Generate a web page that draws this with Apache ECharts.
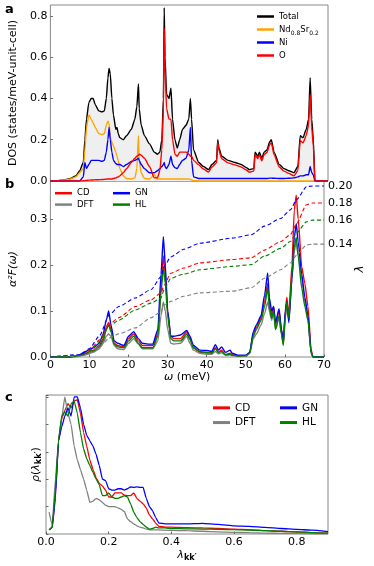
<!DOCTYPE html>
<html>
<head>
<meta charset="utf-8">
<script src="https://cdn.jsdelivr.net/npm/echarts/dist/echarts.min.js"></script>
<style>
html, body { margin: 0; padding: 0; background: #fff; }
#chart { width: 374px; height: 566px; }
</style>
</head>
<body>
<div id="chart"></div>
<script>
// panel a: phonon DOS (states/meV-unit-cell) vs omega (meV)
const omegaDos = [0, 2, 3.5, 5.1, 6.4, 7.4, 8.3, 8.7, 9.1, 9.7,
  10.3, 10.8, 11.3, 12.2, 13.0, 13.6, 14.1, 14.5, 14.8, 15.1,
  15.5, 15.9, 16.5, 16.8, 17.1, 17.5, 18.4, 19.2, 20.4, 21.3,
  21.8, 22.2, 22.4, 22.9, 23.7, 25.0, 26.2, 27.0, 27.6, 28.1,
  28.5, 28.7, 28.9, 29.3, 29.9, 30.4, 30.8, 31.4, 32.0, 32.6,
  33.3, 34.2, 34.9, 35.3, 35.6, 36.1, 37.4, 38.6, 39.9, 40.7,
  41.9, 42.2, 42.5, 43.2, 44.8, 46.5, 48.1, 49.4, 50.2, 51.3,
  51.6, 52.3, 52.7, 53.3, 53.9, 54.6, 55.3, 55.7, 56.4, 57.7,
  58.9, 60.1, 61.4, 62.4, 63.0, 63.7, 64.5, 65.1, 65.5, 65.9,
  66.3, 66.7, 70];
const dosTotal = [0, 0.002, 0.005, 0.012, 0.025, 0.05, 0.09, 0.2, 0.3, 0.38,
  0.4, 0.4, 0.37, 0.34, 0.335, 0.34, 0.4, 0.5, 0.545, 0.52,
  0.4, 0.32, 0.25, 0.26, 0.23, 0.21, 0.2, 0.22, 0.25, 0.3,
  0.36, 0.47, 0.35, 0.27, 0.22, 0.18, 0.14, 0.13, 0.14, 0.2,
  0.4, 0.84, 0.6, 0.42, 0.4, 0.45, 0.3, 0.2, 0.16, 0.2,
  0.25, 0.27, 0.3, 0.4, 0.3, 0.15, 0.09, 0.07, 0.055, 0.08,
  0.1, 0.2, 0.16, 0.12, 0.1, 0.09, 0.08, 0.065, 0.055, 0.06,
  0.14, 0.12, 0.14, 0.11, 0.14, 0.15, 0.19, 0.2, 0.14, 0.08,
  0.06, 0.05, 0.04, 0.07, 0.22, 0.21, 0.25, 0.3, 0.5, 0.3,
  0.2, 0, 0];
const dosNdSr = [0, 0.002, 0.005, 0.01, 0.02, 0.04, 0.06, 0.15, 0.26, 0.32,
  0.3, 0.28, 0.26, 0.23, 0.225, 0.23, 0.27, 0.29, 0.28, 0.21,
  0.19, 0.17, 0.14, 0.12, 0.1, 0.06, 0.025, 0.012, 0.01, 0.015,
  0.06, 0.22, 0.1, 0.04, 0.012, 0.01, 0.03, 0.01, 0.01, 0.01,
  0.01, 0.01, 0.01, 0.01, 0.01, 0.01, 0.01, 0.01, 0.01, 0.01,
  0.01, 0.01, 0.01, 0.008, 0.005, 0.002, 0.001, 0, 0, 0,
  0, 0, 0, 0, 0, 0, 0, 0, 0, 0,
  0, 0, 0, 0, 0, 0, 0, 0, 0, 0,
  0, 0, 0, 0, 0, 0, 0, 0, 0, 0,
  0, 0, 0];
const dosNi = [0, 0, 0, 0, 0, 0, 0.02, 0.09, 0.06, 0.08,
  0.1, 0.1, 0.1, 0.1, 0.095, 0.1, 0.14, 0.2, 0.26, 0.2,
  0.14, 0.1, 0.085, 0.08, 0.08, 0.08, 0.07, 0.08, 0.095, 0.1,
  0.105, 0.11, 0.1, 0.08, 0.06, 0.04, 0.04, 0.05, 0.06, 0.07,
  0.08, 0.09, 0.07, 0.06, 0.08, 0.12, 0.08, 0.065, 0.06, 0.08,
  0.1, 0.11, 0.15, 0.26, 0.1, 0.02, 0.012, 0.012, 0.012, 0.012,
  0.012, 0.012, 0.012, 0.012, 0.012, 0.012, 0.012, 0.012, 0.012, 0.012,
  0.012, 0.012, 0.012, 0.012, 0.012, 0.012, 0.014, 0.014, 0.013, 0.012,
  0.012, 0.013, 0.015, 0.02, 0.025, 0.025, 0.03, 0.03, 0.07, 0.04,
  0.03, 0, 0];
const dosO = [0, 0, 0, 0, 0, 0, 0.001, 0.002, 0.003, 0.004,
  0.005, 0.005, 0.006, 0.006, 0.007, 0.008, 0.009, 0.01, 0.01, 0.01,
  0.01, 0.012, 0.015, 0.018, 0.02, 0.025, 0.04, 0.06, 0.09, 0.11,
  0.12, 0.125, 0.13, 0.125, 0.11, 0.07, 0.015, 0.015, 0.05, 0.15,
  0.35, 0.74, 0.55, 0.35, 0.3, 0.3, 0.2, 0.13, 0.12, 0.14,
  0.14, 0.14, 0.13, 0.12, 0.12, 0.1, 0.078, 0.058, 0.043, 0.068,
  0.088, 0.188, 0.148, 0.108, 0.088, 0.078, 0.068, 0.053, 0.043, 0.048,
  0.128, 0.108, 0.128, 0.098, 0.128, 0.138, 0.176, 0.186, 0.127, 0.068,
  0.048, 0.037, 0.025, 0.05, 0.195, 0.185, 0.22, 0.27, 0.42, 0.26,
  0.17, 0, 0];

// panel b: alpha^2F(omega) and cumulative lambda(omega)
const omegaA2F = [0, 5, 7, 9, 11, 12.5, 13.5, 14.3, 14.9, 15.5,
  16.3, 17.2, 18.8, 20, 21.3, 22.5, 23.5, 25, 26.2, 27.5,
  28.3, 28.9, 29.4, 30, 30.8, 31.6, 33.3, 34.9, 35.7, 36.6,
  38.2, 40, 41.3, 42.2, 43, 43.8, 44.8, 46, 46.5, 48,
  50, 51, 51.9, 52.7, 53.9, 54.8, 55.6, 56, 56.6, 57.1,
  57.6, 58.5, 59.1, 59.6, 60.1, 60.5, 61, 61.8, 62.4, 62.9,
  63.4, 64.3, 65.1, 65.9, 66.7, 67.2, 70];
const a2fCD = [0, 0, 0.002, 0.008, 0.015, 0.025, 0.04, 0.065, 0.075, 0.06,
  0.03, 0.025, 0.022, 0.04, 0.05, 0.035, 0.025, 0.025, 0.025, 0.05,
  0.15, 0.22, 0.18, 0.1, 0.045, 0.04, 0.04, 0.055, 0.04, 0.02,
  0.01, 0.008, 0.01, 0.02, 0.01, 0.015, 0.005, 0.008, 0.005, 0.002,
  0.003, 0.01, 0.05, 0.065, 0.085, 0.12, 0.16, 0.12, 0.09, 0.11,
  0.07, 0.1, 0.06, 0.03, 0.1, 0.13, 0.09, 0.2, 0.32, 0.352,
  0.3, 0.196, 0.16, 0.11, 0.016, 0, 0];
const a2fDFT = [0, 0, 0.001, 0.005, 0.01, 0.018, 0.03, 0.045, 0.05, 0.045,
  0.025, 0.018, 0.016, 0.03, 0.04, 0.028, 0.018, 0.018, 0.018, 0.035,
  0.09, 0.12, 0.1, 0.06, 0.03, 0.028, 0.03, 0.045, 0.03, 0.015,
  0.008, 0.006, 0.006, 0.012, 0.007, 0.009, 0.004, 0.005, 0.003, 0.002,
  0.002, 0.008, 0.04, 0.05, 0.07, 0.095, 0.12, 0.1, 0.08, 0.095,
  0.06, 0.085, 0.05, 0.03, 0.085, 0.11, 0.08, 0.17, 0.23, 0.25,
  0.22, 0.17, 0.12, 0.08, 0.01, 0, 0];
const a2fGN = [0, 0, 0.003, 0.012, 0.02, 0.03, 0.05, 0.08, 0.1, 0.07,
  0.035, 0.03, 0.025, 0.045, 0.055, 0.04, 0.03, 0.028, 0.028, 0.06,
  0.18, 0.262, 0.2, 0.1, 0.045, 0.045, 0.048, 0.058, 0.045, 0.025,
  0.015, 0.014, 0.012, 0.027, 0.015, 0.022, 0.01, 0.015, 0.008, 0.004,
  0.004, 0.01, 0.055, 0.07, 0.09, 0.135, 0.183, 0.13, 0.1, 0.11,
  0.075, 0.105, 0.06, 0.035, 0.1, 0.12, 0.075, 0.17, 0.26, 0.29,
  0.25, 0.18, 0.13, 0.09, 0.01, 0, 0];
const a2fHL = [0, 0, 0.002, 0.007, 0.013, 0.022, 0.035, 0.06, 0.07, 0.055,
  0.028, 0.022, 0.02, 0.035, 0.045, 0.03, 0.02, 0.02, 0.02, 0.045,
  0.14, 0.195, 0.16, 0.09, 0.04, 0.035, 0.035, 0.05, 0.038, 0.02,
  0.012, 0.01, 0.008, 0.018, 0.01, 0.012, 0.005, 0.006, 0.004, 0.002,
  0.003, 0.008, 0.045, 0.06, 0.08, 0.11, 0.15, 0.11, 0.085, 0.1,
  0.06, 0.09, 0.05, 0.025, 0.09, 0.12, 0.085, 0.18, 0.24, 0.26,
  0.22, 0.15, 0.11, 0.08, 0.01, 0, 0];

const omegaLam = [0, 8, 10, 12.6, 15, 17.5, 21.7, 25.8, 28.3, 29.1, 30.8,
  34.1, 38.2, 46.5, 51.4, 54.8, 58.9, 61.4, 63, 65.5, 67, 70];
const lamCD = [0, 0.002, 0.008, 0.02, 0.038, 0.046, 0.059, 0.067, 0.075, 0.084, 0.098,
  0.104, 0.11, 0.114, 0.116, 0.125, 0.135, 0.143, 0.156, 0.178, 0.18, 0.18];
const lamDFT = [0, 0.001, 0.005, 0.012, 0.022, 0.027, 0.034, 0.046, 0.053, 0.061, 0.065,
  0.071, 0.075, 0.077, 0.081, 0.092, 0.102, 0.11, 0.119, 0.131, 0.132, 0.132];
const lamGN = [0, 0.003, 0.01, 0.025, 0.049, 0.059, 0.069, 0.079, 0.094, 0.106, 0.117,
  0.126, 0.133, 0.139, 0.143, 0.153, 0.162, 0.172, 0.184, 0.199, 0.2, 0.2];
const lamHL = [0, 0.002, 0.007, 0.018, 0.036, 0.043, 0.055, 0.063, 0.069, 0.079, 0.092,
  0.097, 0.102, 0.106, 0.108, 0.118, 0.127, 0.135, 0.145, 0.158, 0.16, 0.16];
const lamLabels = { CD: '0.18', DFT: '0.14', GN: '0.20', HL: '0.16' };

// panel c: distribution of lambda_kk'
const lamKK = [0.01, 0.02, 0.03, 0.04, 0.05, 0.06, 0.07, 0.08, 0.09, 0.1,
  0.11, 0.12, 0.13, 0.14, 0.15, 0.16, 0.17, 0.18, 0.19, 0.2,
  0.21, 0.22, 0.23, 0.24, 0.25, 0.26, 0.27, 0.28, 0.29, 0.3,
  0.31, 0.32, 0.33, 0.34, 0.35, 0.36, 0.38, 0.4, 0.45, 0.5,
  0.55, 0.6, 0.65, 0.7, 0.75, 0.8, 0.85, 0.9];
const rhoCD = [0.15, 0.25, 1.5, 3.4, 4.2, 4.5, 4.75, 4.6, 4.85, 4.9,
  4.4, 3.7, 3.2, 2.7, 2.35, 2.05, 1.85, 1.75, 1.6, 1.35,
  1.35, 1.5, 1.5, 1.5, 1.42, 1.4, 1.4, 1.5, 1.3, 1.2,
  1.1, 0.95, 0.7, 0.55, 0.4, 0.28, 0.25, 0.25, 0.23, 0.22,
  0.2, 0.18, 0.16, 0.12, 0.1, 0.08, 0.05, 0.03];
const rhoDFT = [0.8, 0.3, 2.0, 3.4, 4.2, 5.0, 4.4, 4.0, 3.2, 2.7,
  2.35, 2.0, 1.6, 1.15, 1.2, 1.3, 1.25, 1.15, 1.05, 1.0,
  1.0, 1.0, 0.95, 0.9, 0.82, 0.55, 0.45, 0.37, 0.3, 0.25,
  0.22, 0.18, 0.15, 0.15, 0.15, 0.15, 0.14, 0.13, 0.12, 0.1,
  0.08, 0.06, 0.05, 0.03, 0.025, 0.02, 0.01, 0.005];
const rhoGN = [0.15, 0.25, 1.3, 3.4, 3.9, 4.3, 4.6, 4.3, 5.0, 5.0,
  4.6, 4.0, 3.6, 3.4, 3.2, 2.9, 2.5, 2.0, 1.95, 1.65,
  1.6, 1.6, 1.65, 1.65, 1.6, 1.65, 1.72, 1.7, 1.72, 1.7,
  1.7, 1.3, 1.0, 0.85, 0.6, 0.4, 0.37, 0.37, 0.37, 0.39,
  0.35, 0.3, 0.28, 0.24, 0.2, 0.17, 0.14, 0.09];
const rhoHL = [0.15, 0.25, 1.6, 3.4, 4.3, 4.45, 4.3, 4.75, 4.85, 4.4,
  3.7, 3.1, 2.75, 2.5, 2.25, 2.0, 1.8, 1.4, 1.4, 1.5,
  1.35, 1.3, 1.3, 1.35, 1.4, 1.35, 1.1, 0.8, 0.6, 0.45,
  0.35, 0.25, 0.18, 0.2, 0.25, 0.22, 0.22, 0.2, 0.19, 0.18,
  0.17, 0.16, 0.14, 0.12, 0.1, 0.08, 0.05, 0.03];

const FONT = 'DejaVu Sans';
const colors = { CD: '#ff0000', DFT: '#808080', GN: '#0000ff', HL: '#008000' };
const pairs = (xs, ys) => xs.map((x, i) => [x, ys[i]]);

function lineSeries(name, xi, yi, xs, ys, color, width, extra) {
  return Object.assign({
    type: 'line', name: name, xAxisIndex: xi, yAxisIndex: yi,
    data: pairs(xs, ys), showSymbol: false, smooth: 0.2, smoothMonotone: 'x',
    lineStyle: { color: color, width: width }, itemStyle: { color: color }
  }, extra || {});
}

function axisBase(extra) {
  return Object.assign({
    type: 'value', splitLine: { show: false },
    axisLine: { show: false },
    axisTick: { show: true, inside: true, length: 2.5, lineStyle: { color: '#666' } },
    axisLabel: { color: '#000', fontSize: 11, fontFamily: FONT, margin: 3 },
    nameTextStyle: { color: '#000', fontSize: 11, fontFamily: FONT }
  }, extra);
}
const fmt1 = v => v.toFixed(1);

const chart = echarts.init(document.getElementById('chart'), null, { renderer: 'canvas' });

const series = [
  lineSeries('Total', 0, 0, omegaDos, dosTotal, '#000000', 1.4, { areaStyle: { color: '#efefef', opacity: 1 } }),
  lineSeries('Nd0.8Sr0.2', 0, 0, omegaDos, dosNdSr, '#ffa500', 1.4),
  lineSeries('Ni', 0, 0, omegaDos, dosNi, '#0000ff', 1.4),
  lineSeries('O', 0, 0, omegaDos, dosO, '#ff0000', 1.4)
];
const a2f = { CD: a2fCD, DFT: a2fDFT, GN: a2fGN, HL: a2fHL };
const lam = { CD: lamCD, DFT: lamDFT, GN: lamGN, HL: lamHL };
const rho = { CD: rhoCD, DFT: rhoDFT, GN: rhoGN, HL: rhoHL };
['CD', 'DFT', 'GN', 'HL'].forEach(k => {
  series.push(lineSeries(k, 1, 1, omegaA2F, a2f[k], colors[k], 1.4));
});
['CD', 'DFT', 'GN', 'HL'].forEach(k => {
  series.push(lineSeries('lam ' + k, 1, 2, omegaLam, lam[k], colors[k], 1.1, {
    lineStyle: { color: colors[k], width: 1.1, type: [4, 2.5] },
    endLabel: { show: true, formatter: lamLabels[k], color: '#000', fontSize: 11, fontFamily: FONT, distance: 4 }
  }));
});
['CD', 'DFT', 'GN', 'HL'].forEach(k => {
  series.push(lineSeries(k, 2, 3, lamKK, rho[k], colors[k], 1.3, { smooth: 0.1 }));
});

function legendCol(names, left, top, fontSize, lineHeight, iconH, extra) {
  return Object.assign({
    data: names, orient: 'vertical', left: left, top: top, padding: 0,
    itemGap: 0, itemWidth: 17, itemHeight: iconH, icon: 'rect',
    selectedMode: false,
    textStyle: { color: '#000', fontSize: fontSize, lineHeight: lineHeight, fontFamily: FONT }
  }, extra || {});
}

const option = {
  animation: false,
  textStyle: { fontFamily: FONT },
  grid: [
    { left: 46, top: 5, width: 282, height: 176, show: true, borderColor: '#888', borderWidth: 1 },
    { left: 46, top: 181, width: 282, height: 176, show: true, borderColor: '#888', borderWidth: 1 },
    { left: 46, top: 395, width: 282, height: 139, show: true, borderColor: '#888', borderWidth: 1 }
  ],
  xAxis: [
    axisBase({ gridIndex: 0, min: 0, max: 70, interval: 10, axisLabel: { show: false }, axisTick: { show: false } }),
    axisBase({ gridIndex: 1, min: 0, max: 70, interval: 10,
      name: '{i|ω} (meV)', nameLocation: 'middle', nameGap: 15,
      nameTextStyle: { color: '#000', fontSize: 11, fontFamily: FONT, rich: { i: { fontStyle: 'italic', fontSize: 11, fontFamily: FONT } } } }),
    axisBase({ gridIndex: 2, min: 0, max: 0.9, interval: 0.2,
      axisLabel: { color: '#000', fontSize: 11, fontFamily: FONT, margin: 3, formatter: fmt1, showMaxLabel: false },
      name: '{l|λ}{s|kk′}', nameLocation: 'middle', nameGap: 14,
      nameTextStyle: { color: '#000', fontSize: 11, fontFamily: FONT, rich: {
        l: { fontStyle: 'italic', fontSize: 11, fontFamily: FONT, lineHeight: 14 },
        s: { fontWeight: 'bold', fontSize: 8, fontFamily: FONT, lineHeight: 9, verticalAlign: 'bottom' } } } })
  ],
  yAxis: [
    axisBase({ gridIndex: 0, min: 0, max: 0.853, interval: 0.2,
      axisLabel: { color: '#000', fontSize: 11, fontFamily: FONT, margin: 3, formatter: fmt1, showMaxLabel: false },
      name: 'DOS (states/meV-unit-cell)', nameLocation: 'middle', nameGap: 21 }),
    axisBase({ gridIndex: 1, min: 0, max: 0.383, interval: 0.1,
      axisLabel: { color: '#000', fontSize: 11, fontFamily: FONT, margin: 3, formatter: fmt1, showMaxLabel: false },
      name: 'α²F(ω)', nameLocation: 'middle', nameGap: 20,
      nameTextStyle: { color: '#000', fontSize: 11, fontFamily: FONT, fontStyle: 'italic' } }),
    axisBase({ gridIndex: 1, position: 'right', min: 0, max: 0.2058,
      axisLabel: { show: false }, axisTick: { show: false },
      name: 'λ', nameLocation: 'middle', nameGap: 30, nameRotate: 90,
      nameTextStyle: { color: '#000', fontSize: 12, fontFamily: FONT, fontStyle: 'italic' } }),
    axisBase({ gridIndex: 2, min: 0, max: 5.07, interval: 1, axisLabel: { show: false },
      name: '{i|ρ}({i|λ}{s|kk′})', nameLocation: 'middle', nameGap: 3,
      nameTextStyle: { color: '#000', fontSize: 11, fontFamily: FONT, rich: {
        i: { fontStyle: 'italic', fontSize: 11, fontFamily: FONT, lineHeight: 14 },
        s: { fontWeight: 'bold', fontSize: 8, fontFamily: FONT, lineHeight: 9, verticalAlign: 'bottom' } } } })
  ],
  legend: [
    legendCol(['Total', 'Nd0.8Sr0.2', 'Ni', 'O'], 257, 10, 8.5, 13, 2.5, {
      formatter: n => n === 'Nd0.8Sr0.2' ? '{n|Nd}{s|0.8}{n|Sr}{s|0.2}' : n,
      textStyle: { color: '#000', fontSize: 8.5, lineHeight: 13, fontFamily: FONT, rich: {
        n: { fontSize: 8.5, lineHeight: 13, fontFamily: FONT, color: '#000' },
        s: { fontSize: 6, lineHeight: 9, verticalAlign: 'bottom', fontFamily: FONT, color: '#000' } } }
    }),
    legendCol(['CD', 'DFT'], 55, 187.5, 8.5, 11.4, 2.5),
    legendCol(['GN', 'HL'], 113, 187.5, 8.5, 11.4, 2.5),
    legendCol(['CD', 'DFT'], 213, 400.5, 10.5, 14.7, 3),
    legendCol(['GN', 'HL'], 280, 400.5, 10.5, 14.7, 3)
  ],
  graphic: [
    { type: 'text', left: 5, top: 3, style: { text: 'a', font: 'bold 13px DejaVu Sans', fill: '#000' } },
    { type: 'text', left: 5, top: 178, style: { text: 'b', font: 'bold 13px DejaVu Sans', fill: '#000' } },
    { type: 'text', left: 5, top: 391, style: { text: 'c', font: 'bold 13px DejaVu Sans', fill: '#000' } }
  ],
  series: series
};

chart.setOption(option);
</script>
</body>
</html>
